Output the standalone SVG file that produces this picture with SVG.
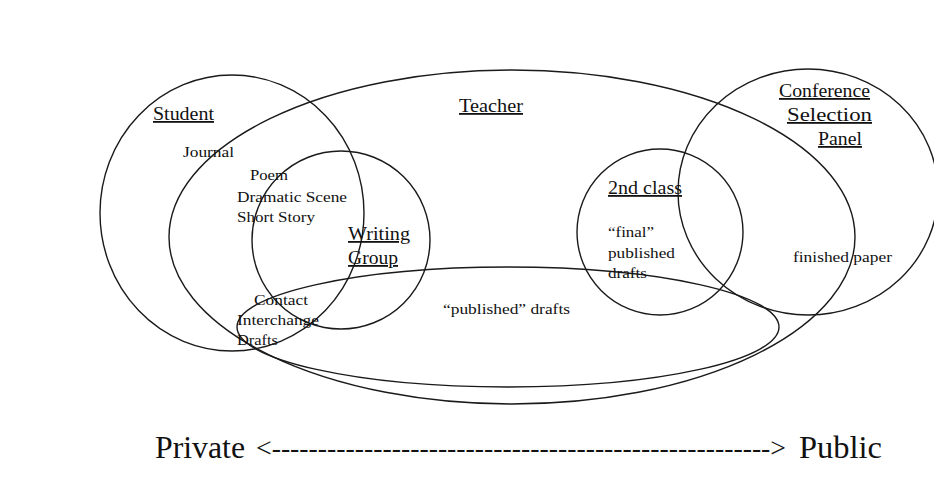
<svg xmlns="http://www.w3.org/2000/svg" width="934" height="501" viewBox="0 0 934 501">
<style>
.shape{fill:none;stroke:#1a1a1a;stroke-width:1.4}
text{font-family:"Liberation Serif","Times New Roman",Times,serif;fill:#111}
.title{font-size:18px;text-decoration:underline}
.item{font-size:14px}
.axis{font-size:31px}
.dash{font-size:27px}
</style>
<rect width="934" height="501" fill="#ffffff"/>
<g id="teacher">
<ellipse class="shape" cx="512" cy="237" rx="343" ry="167"/>
<text class="title" x="459" y="112" textLength="64" lengthAdjust="spacingAndGlyphs">Teacher</text>
</g>
<g id="student">
<ellipse class="shape" cx="232" cy="213" rx="132" ry="138"/>
<text class="title" x="153" y="120" textLength="61" lengthAdjust="spacingAndGlyphs">Student</text>
<text class="item" x="183" y="157" textLength="51" lengthAdjust="spacingAndGlyphs">Journal</text>
<text class="item" x="250" y="180" textLength="38" lengthAdjust="spacingAndGlyphs">Poem</text>
<text class="item" x="237" y="202" textLength="110" lengthAdjust="spacingAndGlyphs">Dramatic Scene</text>
<text class="item" x="237" y="222" textLength="78" lengthAdjust="spacingAndGlyphs">Short Story</text>
</g>
<g id="writing-group">
<ellipse class="shape" cx="341" cy="240" rx="89" ry="89"/>
<text class="title" x="348" y="240" textLength="62" lengthAdjust="spacingAndGlyphs">Writing</text>
<text class="title" x="348" y="264" textLength="50" lengthAdjust="spacingAndGlyphs">Group</text>
</g>
<g id="published-drafts">
<ellipse class="shape" cx="508" cy="327" rx="271" ry="60"/>
<text class="item" x="443" y="314" textLength="127" lengthAdjust="spacingAndGlyphs">“published” drafts</text>
<text class="item" x="254" y="305" textLength="54" lengthAdjust="spacingAndGlyphs">Contact</text>
<text class="item" x="237" y="325" textLength="82" lengthAdjust="spacingAndGlyphs">Interchange</text>
<text class="item" x="237" y="345" textLength="41" lengthAdjust="spacingAndGlyphs">Drafts</text>
</g>
<g id="second-class">
<ellipse class="shape" cx="660" cy="232" rx="83" ry="83"/>
<text class="title" x="608" y="194" textLength="74" lengthAdjust="spacingAndGlyphs">2nd class</text>
<text class="item" x="608" y="237" textLength="46" lengthAdjust="spacingAndGlyphs">“final”</text>
<text class="item" x="608" y="258" textLength="67" lengthAdjust="spacingAndGlyphs">published</text>
<text class="item" x="608" y="278" textLength="39" lengthAdjust="spacingAndGlyphs">drafts</text>
</g>
<g id="conference-panel">
<ellipse class="shape" cx="808" cy="192" rx="130" ry="123"/>
<text class="title" x="779" y="97" textLength="91" lengthAdjust="spacingAndGlyphs">Conference</text>
<text class="title" x="787" y="121" textLength="85" lengthAdjust="spacingAndGlyphs">Selection</text>
<text class="title" x="818" y="145" textLength="44" lengthAdjust="spacingAndGlyphs">Panel</text>
<text class="item" x="793" y="262" textLength="99" lengthAdjust="spacingAndGlyphs">finished paper</text>
</g>
<g id="connectors">
<text class="axis" x="155" y="458" textLength="90" lengthAdjust="spacingAndGlyphs">Private</text>
<text class="dash" x="256" y="457" textLength="530" lengthAdjust="spacingAndGlyphs">&lt;------------------------------------------------------&gt;</text>
<text class="axis" x="799" y="458" textLength="83" lengthAdjust="spacingAndGlyphs">Public</text>
</g>
</svg>
